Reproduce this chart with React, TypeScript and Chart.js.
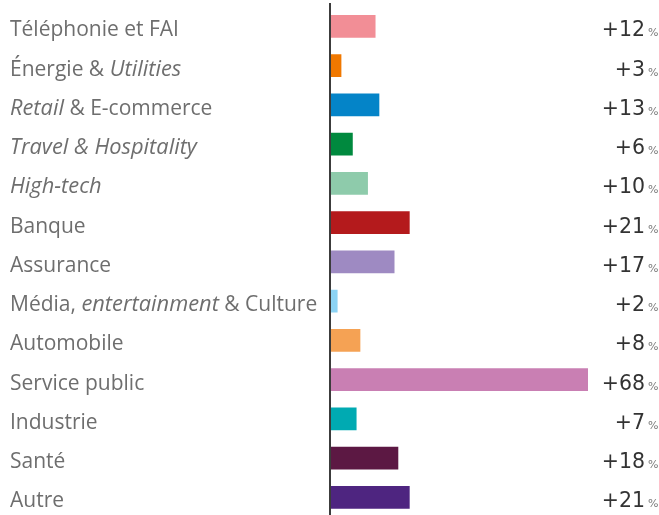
import React, { useEffect, useRef } from "react";
import { Chart, registerables } from "chart.js";

Chart.register(...registerables);

// Labels: segments wrapped in _..._ are italic
const categories: string[] = [
  "Téléphonie et FAI",
  "Énergie & _Utilities_",
  "_Retail_ & E-commerce",
  "_Travel & Hospitality_",
  "_High-tech_",
  "Banque",
  "Assurance",
  "Média, _entertainment_ & Culture",
  "Automobile",
  "Service public",
  "Industrie",
  "Santé",
  "Autre",
];

const values: number[] = [12, 3, 13, 6, 10, 21, 17, 2, 8, 68, 7, 18, 21];

const barColors: string[] = [
  "#F28E96",
  "#F07800",
  "#0484C8",
  "#00893E",
  "#8ECBAB",
  "#B41A1C",
  "#9E8AC2",
  "#8CD3F4",
  "#F5A254",
  "#C97FB3",
  "#00AAB2",
  "#5C1843",
  "#4E2580",
];

const LABEL_FONT = '"Open Sans", sans-serif';
const VALUE_FONT = '"DejaVu Sans", sans-serif';

function parseSegments(s: string): { text: string; italic: boolean }[] {
  const parts = s.split("_");
  return parts
    .map((t, i) => ({ text: t, italic: i % 2 === 1 }))
    .filter((p) => p.text.length > 0);
}

const labelPlugin = {
  id: "customLabels",
  afterDraw(chart: any) {
    const ctx: CanvasRenderingContext2D = chart.ctx;
    const yScale = chart.scales.y;
    ctx.save();
    // category labels
    categories.forEach((cat, i) => {
      const y = yScale.getPixelForValue(i) + 10;
      let x = 10;
      ctx.fillStyle = "#6e6e6e";
      ctx.textAlign = "left";
      ctx.textBaseline = "alphabetic";
      parseSegments(cat).forEach((seg) => {
        if (seg.italic) {
          ctx.font = `italic 21px ${LABEL_FONT}`;
          const sx = 1.04;
          ctx.save();
          ctx.translate(x, y);
          ctx.scale(sx, 1);
          ctx.fillText(seg.text, 0, 0);
          ctx.restore();
          x += ctx.measureText(seg.text).width * sx;
        } else {
          ctx.font = `21px ${LABEL_FONT}`;
          ctx.fillText(seg.text, x, y);
          x += ctx.measureText(seg.text).width;
        }
      });
    });
    // value labels
    values.forEach((v, i) => {
      const y = yScale.getPixelForValue(i) + 10;
      ctx.textBaseline = "alphabetic";
      ctx.font = `20.5px ${VALUE_FONT}`;
      ctx.fillStyle = "#333333";
      ctx.textAlign = "right";
      ctx.fillText("+" + v, 645, y);
      ctx.font = `11px ${VALUE_FONT}`;
      ctx.fillStyle = "#7a7a7a";
      ctx.textAlign = "left";
      ctx.fillText("%", 648, y);
    });
    // vertical axis line
    ctx.fillStyle = "#3c3c3c";
    ctx.fillRect(329, 3, 2, chart.height);
    ctx.restore();
  },
};

export default function App() {
  const ref = useRef<HTMLCanvasElement | null>(null);
  useEffect(() => {
    if (!ref.current) return;
    const chart = new Chart(ref.current, {
      type: "bar",
      data: {
        labels: categories.map((c) => c.replace(/_/g, "")),
        datasets: [
          {
            data: values,
            backgroundColor: barColors,
            borderWidth: 0,
            barPercentage: 0.58,
            categoryPercentage: 1,
          },
        ],
      },
      options: {
        indexAxis: "y",
        responsive: false,
        animation: false,
        layout: { padding: { top: 6.7, bottom: 1.05, left: 330, right: 71 } },
        scales: {
          x: { display: false, min: 0, max: 68 },
          y: { display: false },
        },
        plugins: {
          legend: { display: false },
          tooltip: { enabled: false },
        },
      },
      plugins: [labelPlugin],
    });
    return () => chart.destroy();
  }, []);
  return (
    <div
      style={{
        position: "fixed",
        left: 0,
        top: 0,
        width: 659,
        height: 515,
        overflow: "hidden",
        background: "#ffffff",
      }}
    >
      <canvas ref={ref} width={659} height={518} style={{ display: "block" }} />
    </div>
  );
}
